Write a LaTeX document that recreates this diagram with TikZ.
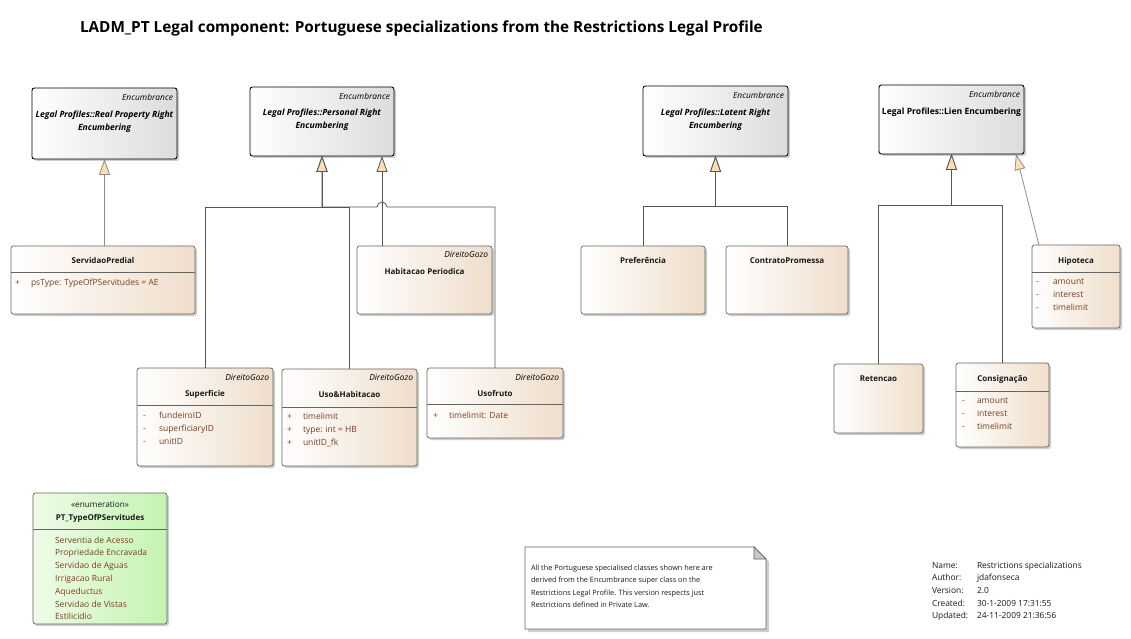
\documentclass[tikz,border=0pt]{standalone}
\usepackage{fontspec}
\setmainfont{Open Sans}
\usetikzlibrary{arrows.meta,shadows,calc}
\definecolor{clsR}{RGB}{239,222,203}
\definecolor{encR}{RGB}{220,220,220}
\definecolor{enumR}{RGB}{196,244,176}
\definecolor{enumL}{RGB}{238,252,232}
\definecolor{triC}{RGB}{250,222,180}
\definecolor{lineC}{RGB}{85,85,85}
\definecolor{lineL}{RGB}{140,140,140}
\definecolor{bordC}{RGB}{100,100,100}
\definecolor{attrC}{RGB}{122,62,30}
\definecolor{shadC}{RGB}{205,205,205}
\definecolor{txtC}{RGB}{25,25,25}
\begin{document}
\begin{tikzpicture}[x=1pt,y=-1pt,
  every node/.style={inner sep=0pt, outer sep=0pt},
  shad/.style={drop shadow={shadow xshift=2pt,shadow yshift=-2pt,fill=shadC,opacity=1}},
  clsbox/.style={draw=bordC, line width=0.7pt, rounded corners=2.5pt, anchor=north west, left color=white, right color=clsR, shad},
  encbox/.style={draw=black, line width=0.9pt, rounded corners=2.5pt, anchor=north west, left color=white, right color=encR, shad},
  enumbox/.style={draw=bordC, line width=0.7pt, rounded corners=2.5pt, anchor=north west, left color=enumL, right color=enumR, shad},
  sep/.style={draw=bordC, line width=0.7pt},
  txt/.style={text height=6pt, text depth=1.8pt},
  ster/.style={txt, font=\fontsize{8.4}{9}\selectfont\itshape, anchor=east},
  cname/.style={txt, text=txtC, font=\fontsize{8}{9}\selectfont\bfseries},
  ename/.style={font=\fontsize{8.6}{13}\selectfont\bfseries\itshape, align=center},
  attr/.style={txt, font=\fontsize{8.5}{9}\selectfont, text=attrC, anchor=west},
  notet/.style={txt, font=\fontsize{7.3}{9}\selectfont, text=txtC, anchor=west},
  infot/.style={txt, font=\fontsize{8.4}{9}\selectfont, text=txtC, anchor=west},
  gen/.style={draw=lineC, line width=0.8pt, -{Triangle[length=16pt,width=11pt,fill=triC]}},
]
\useasboundingbox (0,0) rectangle (1131,639);
\fill[white] (0,0) rectangle (1131,639);

% title
\node[font=\fontsize{15.3}{17}\selectfont\bfseries, anchor=base west] (title) at (80,32.5) {LADM\_PT Legal component: Portuguese specializations from the Restrictions Legal Profile};

% Encumbrance super classes
\node[encbox, minimum width=145pt, minimum height=71pt] (real) at (32,88) {};
\node[encbox, minimum width=144pt, minimum height=69pt] (pers) at (250,87) {};
\node[encbox, minimum width=145pt, minimum height=70pt] (lat) at (643,86) {};
\node[encbox, minimum width=145pt, minimum height=69pt] (lien) at (879,85) {};

\node[ster] (realS) at (173,98) {Encumbrance};
\node[ename] (realN) at (104.5,121.5) {Legal Profiles::Real Property Right\\Encumbering};
\node[ster] (persS) at (390,97) {Encumbrance};
\node[ename] (persN) at (322,119.5) {Legal Profiles::Personal Right\\Encumbering};
\node[ster] (latS) at (784,96) {Encumbrance};
\node[ename] (latN) at (715.5,119.5) {Legal Profiles::Latent Right\\Encumbering};
\node[ster] (lienS) at (1020,95.5) {Encumbrance};
\node[txt, font=\fontsize{8.6}{9}\selectfont\bfseries] (lienN) at (951.5,112) {Legal Profiles::Lien Encumbering};

% classes
\node[clsbox, minimum width=184pt, minimum height=68pt] (srv) at (11,246) {};
\node[clsbox, minimum width=135pt, minimum height=68pt] (hab) at (357,246) {};
\node[clsbox, minimum width=136pt, minimum height=98pt] (sup) at (137,368) {};
\node[clsbox, minimum width=135pt, minimum height=97pt] (uso) at (282,369) {};
\node[clsbox, minimum width=136pt, minimum height=70pt] (usf) at (427,368) {};
\node[clsbox, minimum width=124pt, minimum height=68pt] (pref) at (581,246) {};
\node[clsbox, minimum width=122pt, minimum height=68pt] (contr) at (726,246) {};
\node[clsbox, minimum width=88pt, minimum height=83pt] (hip) at (1032,245) {};
\node[clsbox, minimum width=89pt, minimum height=69pt] (ret) at (834,364) {};
\node[clsbox, minimum width=93pt, minimum height=84pt] (cons) at (956,363) {};

\draw[sep] ($(srv.north west)+(0,26)$) -- ($(srv.north east)+(0,26)$);
\draw[sep] ($(sup.north west)+(0,37)$) -- ($(sup.north east)+(0,37)$);
\draw[sep] ($(uso.north west)+(0,38)$) -- ($(uso.north east)+(0,38)$);
\draw[sep] ($(usf.north west)+(0,36)$) -- ($(usf.north east)+(0,36)$);
\draw[sep] ($(hip.north west)+(0,27)$) -- ($(hip.north east)+(0,27)$);
\draw[sep] ($(cons.north west)+(0,28)$) -- ($(cons.north east)+(0,28)$);

\node[cname] (srvN) at (103,261) {ServidaoPredial};
\node[attr] (srvV) at (15,283) {+};
\node[attr] (srvA) at (31,283) {psType: TypeOfPServitudes = AE};

\node[ster] (habS) at (488,255) {DireitoGozo};
\node[cname] (habN) at (424.5,272) {Habitacao Periodica};

\node[ster] (supS) at (269,378) {DireitoGozo};
\node[cname] (supN) at (205,394) {Superficie};
\node[attr] (supV1) at (143,416) {-};
\node[attr] (supV2) at (143,429) {-};
\node[attr] (supV3) at (143,442) {-};
\node[attr] (supA1) at (159,416) {fundeiroID};
\node[attr] (supA2) at (159,429) {superficiaryID};
\node[attr] (supA3) at (159,442) {unitID};

\node[ster] (usoS) at (413,378) {DireitoGozo};
\node[cname] (usoN) at (349.5,395) {Uso\&Habitacao};
\node[attr] (usoV1) at (287,417) {+};
\node[attr] (usoV2) at (287,430) {+};
\node[attr] (usoV3) at (287,443) {+};
\node[attr] (usoA1) at (303,417) {timelimit};
\node[attr] (usoA2) at (303,430) {type: int = HB};
\node[attr] (usoA3) at (303,443) {unitID\_fk};

\node[ster] (usfS) at (559,378) {DireitoGozo};
\node[cname] (usfN) at (495,394) {Usofruto};
\node[attr] (usfV1) at (433,416) {+};
\node[attr] (usfA1) at (449,416) {timelimit: Date};

\node[cname] (prefN) at (643,261) {Preferência};
\node[cname] (contrN) at (787,261) {ContratoPromessa};

\node[cname] (hipN) at (1076,261) {Hipoteca};
\node[attr] (hipV1) at (1036,282) {-};
\node[attr] (hipV2) at (1036,295) {-};
\node[attr] (hipV3) at (1036,308) {-};
\node[attr] (hipA1) at (1053,282) {amount};
\node[attr] (hipA2) at (1053,295) {interest};
\node[attr] (hipA3) at (1053,308) {timelimit};

\node[cname] (retN) at (878.5,379) {Retencao};
\node[cname] (consN) at (1002.5,379) {Consignação};
\node[attr] (consV1) at (962,401) {-};
\node[attr] (consV2) at (962,414) {-};
\node[attr] (consV3) at (962,427) {-};
\node[attr] (consA1) at (977,401) {amount};
\node[attr] (consA2) at (977,414) {interest};
\node[attr] (consA3) at (977,427) {timelimit};

% enumeration
\node[enumbox, minimum width=134pt, minimum height=131pt] (enum) at (33,493) {};
\draw[sep] ($(enum.north west)+(0,36)$) -- ($(enum.north east)+(0,36)$);
\node[txt, font=\fontsize{8.2}{9}\selectfont, text=txtC] (enumS) at (100,505) {«enumeration»};
\node[cname] (enumN) at (100,518) {PT\_TypeOfPServitudes};
\foreach \t [count=\i from 0] in {Serventia de Acesso, Propriedade Encravada, Servidao de Aguas, Irrigacao Rural, Aqueductus, Servidao de Vistas, Estilicidio}
  \node[attr] (enumI\i) at (55,541+12.8*\i) {\t};

% note
\node[anchor=north west, minimum width=241pt, minimum height=82pt] (note) at (525,547) {};
\fill[shadC] ($(note.north west)+(3,3)$) -- ($(note.north east)+(-9,3)$) -- ($(note.north east)+(3,15)$) -- ($(note.south east)+(3,3)$) -- ($(note.south west)+(3,3)$) -- cycle;
\draw[bordC, line width=0.7pt, fill=white] (note.north west) -- ($(note.north east)+(-12,0)$) -- ($(note.north east)+(0,12)$) -- (note.south east) -- (note.south west) -- cycle;
\draw[bordC, line width=0.7pt, fill=black!22] ($(note.north east)+(-12,0)$) -- ($(note.north east)+(-12,12)$) -- ($(note.north east)+(0,12)$) -- cycle;
\node[notet] (noteL1) at (531,568) {All the Portuguese specialised classes shown here are};
\node[notet] (noteL2) at (531,580.6) {derived from the Encumbrance super class on the};
\node[notet] (noteL3) at (531,593.2) {Restrictions Legal Profile. This version respects just};
\node[notet] (noteL4) at (531,605.8) {Restrictions defined in Private Law.};

% info block
\foreach \l/\v [count=\i from 0] in {Name:/Restrictions specializations, Author:/jdafonseca, Version:/2.0, Created:/30-1-2009 17:31:55, Updated:/24-11-2009 21:36:56}{
  \node[infot] (infoL\i) at (932,566+12.7*\i) {\l};
  \node[infot] (infoV\i) at (977,566+12.7*\i) {\v};
}

% generalizations
\draw[gen, draw=lineL] (srv.north -| real.south) -- (real.south);

\coordinate (busP) at ($(pers.south)+(0,51)$);
\coordinate (habTop) at ($(hab.north west)+(25,0)$);
\coordinate (persR) at ($(pers.south east)+(-12,0)$);
\draw[gen] (sup.north) |- (busP) -- (pers.south);
\draw[gen] (uso.north) |- (busP) -- (pers.south);
\draw[gen] (usf.north) |- ($(busP)+(65,0)$) arc[start angle=0, end angle=-180, radius=5] -- (busP) -- (pers.south);
\draw[gen] (habTop) -- (persR);

\coordinate (busL) at ($(lat.south)+(0,50)$);
\draw[gen] (pref.north) |- (busL) -- (lat.south);
\draw[gen] (contr.north) |- (busL) -- (lat.south);

\coordinate (busN) at ($(lien.south)+(0,51)$);
\draw[gen] (ret.north) |- (busN) -- (lien.south);
\draw[gen] (cons.north) |- (busN) -- (lien.south);
\draw[gen, draw=lineL] ($(hip.north west)+(7,0)$) -- ($(lien.south east)+(-8,0)$);
\end{tikzpicture}
\end{document}
